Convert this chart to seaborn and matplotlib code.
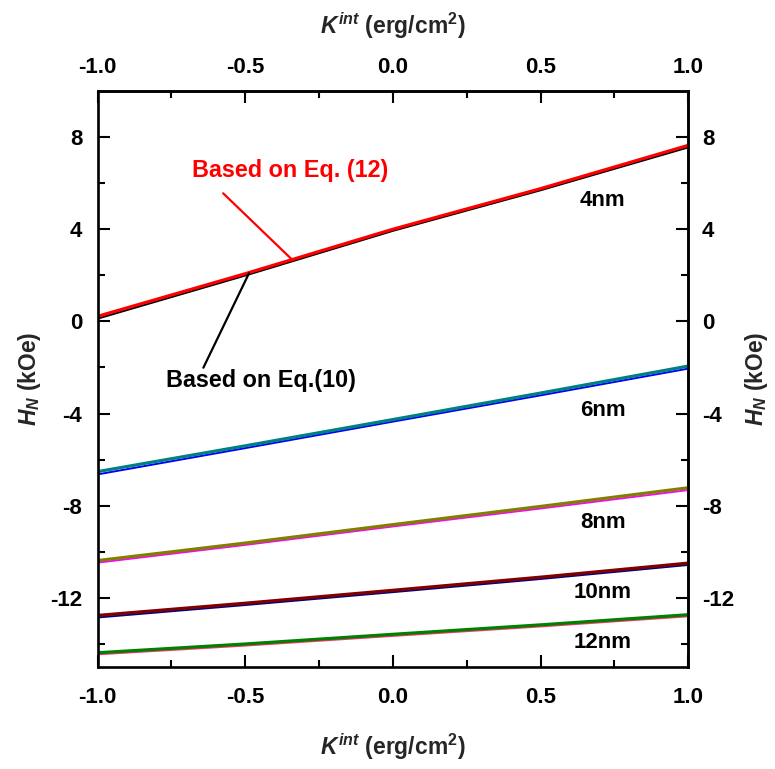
import matplotlib
matplotlib.use("Agg")
import matplotlib.pyplot as plt
import seaborn as sns
import pandas as pd
import numpy as np
from matplotlib.ticker import FixedLocator, FuncFormatter

# ---- data ----
k_int = [-1.0, -0.5, 0.0, 0.5, 1.0]
thickness = ["4nm", "6nm", "8nm", "10nm", "12nm"]
# Based on Eq. (12)
eq12_4nm = [0.22, 2.07, 4.00, 5.76, 7.64]
eq12_6nm = [-6.52, -5.40, -4.26, -3.11, -1.94]
eq12_8nm = [-10.38, -9.62, -8.82, -8.03, -7.22]
eq12_10nm = [-12.76, -12.23, -11.67, -11.10, -10.49]
eq12_12nm = [-14.38, -14.00, -13.58, -13.17, -12.73]
# Based on Eq. (10)
eq10_4nm = [0.12, 1.99, 3.93, 5.69, 7.55]
eq10_6nm = [-6.64, -5.50, -4.35, -3.21, -2.05]
eq10_8nm = [-10.47, -9.70, -8.90, -8.12, -7.32]
eq10_10nm = [-12.85, -12.31, -11.75, -11.18, -10.57]
eq10_12nm = [-14.45, -14.07, -13.65, -13.24, -12.80]

eq12_colors = ["#FF0000", "#008080", "#808000", "#800000", "#008000"]
eq10_colors = ["#000000", "#0000FF", "#FF00FF", "#000080", "#FF3070"]

x_major = [-1.0, -0.5, 0.0, 0.5, 1.0]
x_minor = [-0.75, -0.25, 0.25, 0.75]
y_major = [-12, -8, -4, 0, 4, 8]
y_minor = [-14, -10, -6, -2, 2, 6]

label_x = 0.71
label_y = {"4nm": 5.25, "6nm": -3.86, "8nm": -8.72, "10nm": -11.76, "12nm": -13.93}

eq12 = [eq12_4nm, eq12_6nm, eq12_8nm, eq12_10nm, eq12_12nm]
eq10 = [eq10_4nm, eq10_6nm, eq10_8nm, eq10_10nm, eq10_12nm]

rows = []
for t, v10, v12 in zip(thickness, eq10, eq12):
    for k, a, b in zip(k_int, v10, v12):
        rows.append({"K": k, "H": a, "thickness": t, "model": "Eq.(10)"})
        rows.append({"K": k, "H": b, "thickness": t, "model": "Eq.(12)"})
df = pd.DataFrame(rows)

sns.set_theme(style="ticks")
plt.rcParams["font.family"] = ["Liberation Sans", "DejaVu Sans"]
plt.rcParams["font.weight"] = "bold"
plt.rcParams["axes.labelweight"] = "bold"
plt.rcParams["mathtext.fontset"] = "custom"
plt.rcParams["mathtext.rm"] = "Liberation Sans:bold"
plt.rcParams["mathtext.it"] = "Liberation Sans:bold:italic"
plt.rcParams["mathtext.bf"] = "Liberation Sans:bold"

fig = plt.figure(figsize=(7.75, 7.69), dpi=100)
ax = fig.add_axes([0.126, 0.1326, 0.762, 0.7491])

sns.lineplot(data=df[df["model"] == "Eq.(10)"], x="K", y="H", hue="thickness",
             palette=eq10_colors, hue_order=thickness, linewidth=1.4,
             legend=False, ax=ax, estimator=None, sort=True)
sns.lineplot(data=df[df["model"] == "Eq.(12)"], x="K", y="H", hue="thickness",
             palette=eq12_colors, hue_order=thickness, linewidth=2.3,
             legend=False, ax=ax, estimator=None, sort=True)

ax.set_xlim(-1.0, 1.0)
ax.set_ylim(-15, 10)

xfmt = FuncFormatter(lambda v, p: f"{v:.1f}")
yfmt = FuncFormatter(lambda v, p: f"{v:.0f}")
ax.xaxis.set_major_locator(FixedLocator(x_major))
ax.xaxis.set_minor_locator(FixedLocator(x_minor))
ax.yaxis.set_major_locator(FixedLocator(y_major))
ax.yaxis.set_minor_locator(FixedLocator(y_minor))
ax.xaxis.set_major_formatter(xfmt)
ax.yaxis.set_major_formatter(yfmt)

for s in ax.spines.values():
    s.set_linewidth(1.9)
    s.set_color("black")

tick_kw = dict(direction="in", width=1.5, colors="black", labelsize=16)
ax.tick_params(axis="x", which="major", length=8.5, pad=14.5, **tick_kw)
ax.tick_params(axis="y", which="major", length=8.5, pad=11, **tick_kw)
ax.tick_params(which="minor", length=5, **tick_kw)

xlabel = r"$\mathit{K}^{\mathit{int}}$ (erg/cm$^{2}$)"
ylabel = r"$\mathit{H}_{\mathit{N}}$ (kOe)"
ax.set_xlabel(xlabel, fontsize=16.5, fontweight="bold", labelpad=17)
ax.set_ylabel(ylabel, fontsize=16.5, fontweight="bold", labelpad=5.5)

secx = ax.secondary_xaxis("top")
secx.xaxis.set_major_locator(FixedLocator(x_major))
secx.xaxis.set_minor_locator(FixedLocator(x_minor))
secx.xaxis.set_major_formatter(xfmt)
secx.tick_params(which="major", length=8.5, pad=9.5, **tick_kw)
secx.tick_params(which="minor", length=5, **tick_kw)
secx.set_xlabel(xlabel, fontsize=16.5, fontweight="bold", labelpad=16.5)
secx.spines["top"].set_linewidth(1.9)

secy = ax.secondary_yaxis("right")
secy.yaxis.set_major_locator(FixedLocator(y_major))
secy.yaxis.set_minor_locator(FixedLocator(y_minor))
secy.yaxis.set_major_formatter(yfmt)
secy.tick_params(which="major", length=8.5, pad=10, **tick_kw)
secy.tick_params(which="minor", length=5, **tick_kw)
secy.set_ylabel(ylabel, fontsize=16.5, fontweight="bold", labelpad=6, rotation=90)
secy.spines["right"].set_linewidth(1.9)

for lab in ax.get_xticklabels() + ax.get_yticklabels() + secx.get_xticklabels() + secy.get_yticklabels():
    lab.set_fontweight("bold")

# annotations: texts and leader lines
ax.text(-0.348, 6.55, "Based on Eq. (12)", color="#FF0000", fontsize=16.8,
        fontweight="bold", ha="center", va="center")
ax.annotate("", xy=(-0.339, 2.65), xytext=(-0.575, 5.56),
            arrowprops=dict(arrowstyle="-", color="#FF0000", lw=1.6,
                            shrinkA=0, shrinkB=0))
ax.text(-0.446, -2.56, "Based on Eq.(10)", color="black", fontsize=16.8,
        fontweight="bold", ha="center", va="center")
ax.annotate("", xy=(-0.487, 2.10), xytext=(-0.642, -2.01),
            arrowprops=dict(arrowstyle="-", color="black", lw=1.6,
                            shrinkA=0, shrinkB=0))

for t in thickness:
    ax.text(label_x, label_y[t], t, fontsize=16, fontweight="bold",
            ha="center", va="center", color="black")

fig.savefig("out.png", dpi=100)
